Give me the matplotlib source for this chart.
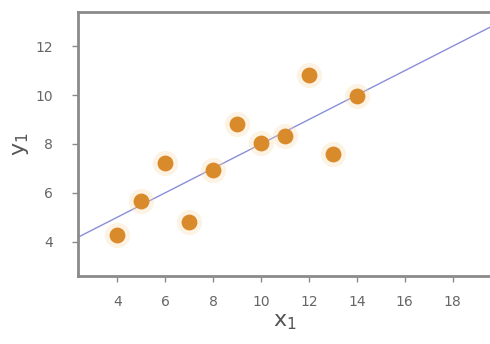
import matplotlib
matplotlib.use("Agg")
import matplotlib.pyplot as plt
import numpy as np

# Anscombe quartet, set I
x1 = [10, 8, 13, 9, 11, 14, 6, 4, 12, 7, 5]
y1 = [8.04, 6.95, 7.58, 8.81, 8.33, 9.96, 7.24, 4.26, 10.84, 4.82, 5.68]
intercept, slope = 3.0, 0.5

xticks = [4, 6, 8, 10, 12, 14, 16, 18]
yticks = [4, 6, 8, 10, 12]

fig = plt.figure(figsize=(4.9, 3.44), dpi=100)
ax = fig.add_axes([0.159, 0.198, 0.845, 0.767])

# fitted line across the whole panel
xl = np.array([2.36, 19.64])
ax.plot(xl, intercept + slope * xl, color="#8a8ed8", lw=1.0, zorder=2)

# points with a soft halo
ax.scatter(x1, y1, s=330, color="#f8d9a8", alpha=0.3, lw=0, zorder=3)
ax.scatter(x1, y1, s=130, color="#d98a2b", lw=0, zorder=4)

ax.set_xlim(2.36, 19.64)
ax.set_ylim(2.6, 13.4)
ax.set_xticks(xticks)
ax.set_yticks(yticks)

for s in ax.spines.values():
    s.set_color("#8a8a8a")
    s.set_linewidth(2)
ax.tick_params(colors="#8a8a8a", labelcolor="#666666", labelsize=10,
               length=4, width=1)
ax.tick_params(axis="x", pad=10)
ax.tick_params(axis="y", pad=14)

ax.set_xlabel("$\\mathrm{x_1}$", fontsize=16, color="#555555", labelpad=2)
ax.set_ylabel("$\\mathrm{y_1}$", fontsize=16, color="#555555", labelpad=3)

fig.savefig("out.png", dpi=100)
